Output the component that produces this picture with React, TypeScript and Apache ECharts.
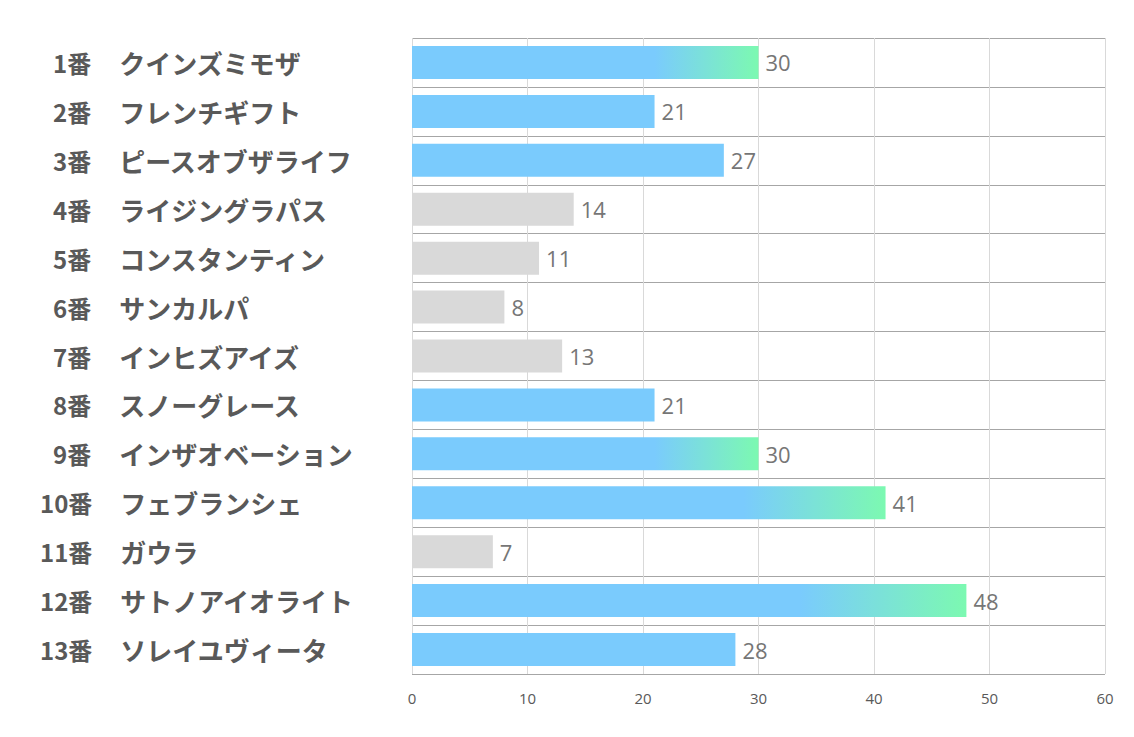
import React, { useEffect, useRef } from "react";
import * as echarts from "echarts";

const numbers = ["1番", "2番", "3番", "4番", "5番", "6番", "7番", "8番", "9番", "10番", "11番", "12番", "13番"];
const names = [
  "クインズミモザ",
  "フレンチギフト",
  "ピースオブザライフ",
  "ライジングラパス",
  "コンスタンティン",
  "サンカルパ",
  "インヒズアイズ",
  "スノーグレース",
  "インザオベーション",
  "フェブランシェ",
  "ガウラ",
  "サトノアイオライト",
  "ソレイユヴィータ",
];
const values = [30, 21, 27, 14, 11, 8, 13, 21, 30, 41, 7, 48, 28];
const xTicks = [0, 10, 20, 30, 40, 50, 60];

const BLUE = "#7acbfd";
const GREEN = "#7cf9b1";
const GRAY = "#d9d9d9";

function barColor(v: number) {
  if (v < 15) return GRAY;
  if (v >= 30)
    return new echarts.graphic.LinearGradient(0, 0, 1, 0, [
      { offset: 0, color: BLUE },
      { offset: 0.7, color: BLUE },
      { offset: 1, color: GREEN },
    ]);
  return BLUE;
}

export default function App() {
  const ref = useRef<HTMLDivElement>(null);
  useEffect(() => {
    if (!ref.current) return;
    const chart = echarts.init(ref.current, null, { renderer: "svg" });
    const cats = numbers.map((n, i) => n + "\t" + names[i]);
    const numStyle = {
      fontSize: 24,
      fontWeight: "bold",
      color: "#595959",
      fontFamily: "Noto Sans CJK JP",
    };
    chart.setOption({
      animation: false,
      grid: { left: 412, right: 29, top: 38, bottom: 63 },
      xAxis: {
        type: "value",
        min: xTicks[0],
        max: xTicks[xTicks.length - 1],
        interval: 10,
        axisLine: { show: false },
        axisTick: { show: false },
        splitLine: { show: true, lineStyle: { color: "#d9d9d9", width: 1 } },
        axisLabel: {
          color: "#595959",
          fontSize: 15,
          fontFamily: "Open Sans",
          margin: 16,
        },
      },
      yAxis: {
        type: "category",
        inverse: true,
        data: cats,
        axisLine: { show: false },
        axisTick: { show: false },
        splitLine: { show: true, lineStyle: { color: "#a6a6a6", width: 1 } },
        axisLabel: {
          align: "left",
          margin: 372,
          formatter: (val: string) => {
            const [n, name] = val.split("\t");
            const tag = n.length > 2 ? "a2" : "a1";
            return "{" + tag + "|" + n + "}{b|" + name + "}";
          },
          rich: {
            a1: { ...numStyle, padding: [0, 0, 0, 13] },
            a2: { ...numStyle },
            b: {
              padding: [0, 0, 0, 28],
              fontSize: 26,
              fontWeight: "bold",
              color: "#595959",
              fontFamily: "Noto Sans CJK JP",
            },
          },
        },
      },
      series: [
        {
          type: "bar",
          barWidth: 33,
          data: values.map((v) => ({ value: v, itemStyle: { color: barColor(v) } })),
          label: {
            show: true,
            position: "right",
            distance: 7,
            color: "#767676",
            fontSize: 22,
            fontFamily: "Open Sans",
          },
        },
      ],
    });
    return () => chart.dispose();
  }, []);
  return <div ref={ref} style={{ width: 1134, height: 737, position: "absolute", left: 0, top: 0 }} />;
}
